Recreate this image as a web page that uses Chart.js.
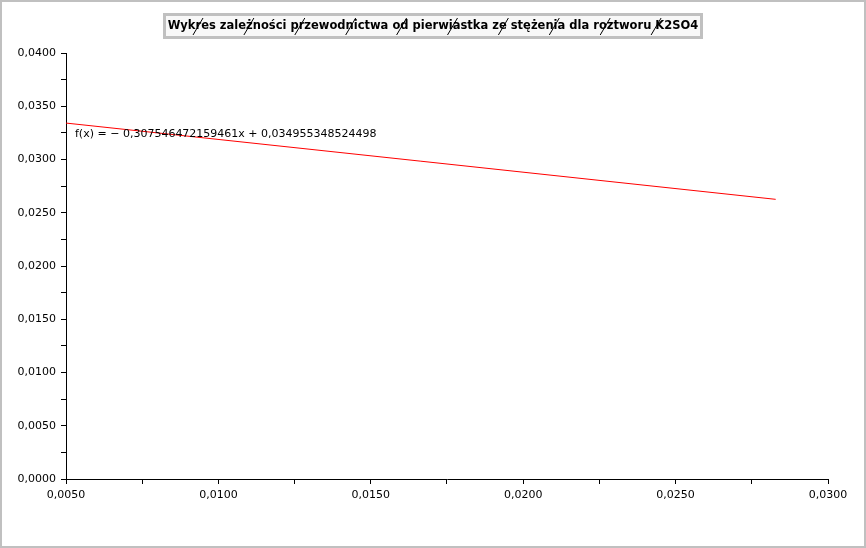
<!DOCTYPE html>
<html>
<head>
<meta charset="utf-8">
<script src="https://cdn.jsdelivr.net/npm/chart.js@4.4.1/dist/chart.umd.min.js"></script>
<style>
html,body{margin:0;padding:0;background:#fff;}
#wrap{width:866px;height:548px;position:relative;}
</style>
</head>
<body>
<div id="wrap"><canvas id="c" width="866" height="548"></canvas></div>
<script>
// Data
const titleText = 'Wykres zależności przewodnictwa od pierwiastka ze stężenia dla roztworu K2SO4';
const fitLabel = 'f(x) = \u2212 0,307546472159461x + 0,034955348524498';
const xValues = [0.0050, 0.028284];
const yValues = [0.03342, 0.02626];
const xAxisRange = [0.005, 0.030];
const yAxisRange = [0.0, 0.040];
const tickStep = 0.0025;

const fmt = v => v.toFixed(4).replace('.', ',');
const isMajor = v => Math.round(v / tickStep) % 2 === 0;

const decor = {
  id: 'decor',
  beforeDraw(chart) {
    const ctx = chart.ctx;
    ctx.save();
    ctx.fillStyle = '#ffffff';
    ctx.fillRect(0, 0, chart.width, chart.height);
    ctx.restore();
  },
  afterDraw(chart) {
    const ctx = chart.ctx;
    const W = chart.width, H = chart.height;
    ctx.save();
    // outer frame
    ctx.fillStyle = '#c0c0c0';
    ctx.fillRect(0, 0, W, 2);
    ctx.fillRect(0, H - 2, W, 2);
    ctx.fillRect(0, 0, 2, H);
    ctx.fillRect(W - 2, 0, 2, H);
    // title box
    ctx.font = 'bold 11.5px "DejaVu Sans"';
    const cx = W / 2;
    const bx = 163, by = 13, bw = 540, bh = 26;
    ctx.fillStyle = '#c0c0c0';
    ctx.fillRect(bx, by, bw, bh);
    ctx.fillStyle = '#f8f8f8';
    ctx.fillRect(bx + 3, by + 3, bw - 6, bh - 6);
    ctx.fillStyle = '#000';
    ctx.textAlign = 'center';
    ctx.textBaseline = 'middle';
    ctx.fillText(titleText, cx, by + bh / 2 + 0.5);
    // diagonal hatch slashes
    ctx.strokeStyle = '#000';
    ctx.lineWidth = 1;
    for (let i = 0; i < 10; i++) {
      const x = 198 + i * 50.9;
      ctx.beginPath();
      ctx.moveTo(x - 5, 35);
      ctx.lineTo(x + 5, 18);
      ctx.stroke();
    }
    // fit label
    ctx.font = '11px "DejaVu Sans"';
    ctx.fillStyle = '#000';
    ctx.textAlign = 'left';
    ctx.textBaseline = 'middle';
    ctx.fillText(fitLabel, chart.chartArea.left + 9, 134);
    ctx.restore();
  }
};

new Chart(document.getElementById('c'), {
  type: 'scatter',
  data: {
    datasets: [{
      data: xValues.map((x, i) => ({x, y: yValues[i]})),
      showLine: true,
      borderColor: '#ff0000',
      borderWidth: 1,
      pointRadius: 0,
      fill: false,
      tension: 0
    }]
  },
  options: {
    responsive: false,
    animation: false,
    devicePixelRatio: 1,
    layout: {padding: {top: 53, right: 38, left: 0, bottom: 0}},
    plugins: {legend: {display: false}, tooltip: {enabled: false}, title: {display: false}},
    scales: {
      x: {
        type: 'linear',
        min: xAxisRange[0], max: xAxisRange[1],
        border: {display: true, color: '#000', width: 1},
        grid: {drawOnChartArea: false, drawTicks: true, tickLength: 5, color: '#000'},
        ticks: {
          stepSize: tickStep, autoSkip: false, maxRotation: 0, padding: 5,
          color: '#000', font: {family: 'DejaVu Sans', size: 11},
          callback: v => isMajor(v) ? fmt(v) : ''
        },
        afterFit(s) { s.height = 548 - 479; }
      },
      y: {
        type: 'linear',
        min: yAxisRange[0], max: yAxisRange[1],
        border: {display: true, color: '#000', width: 1},
        grid: {drawOnChartArea: false, drawTicks: true, tickLength: 5, color: '#000'},
        ticks: {
          stepSize: tickStep, autoSkip: false, padding: 5,
          color: '#000', font: {family: 'DejaVu Sans', size: 11},
          callback: v => isMajor(v) ? fmt(v) : ''
        },
        afterFit(s) { s.width = 66; }
      }
    }
  },
  plugins: [decor]
});
</script>
</body>
</html>
